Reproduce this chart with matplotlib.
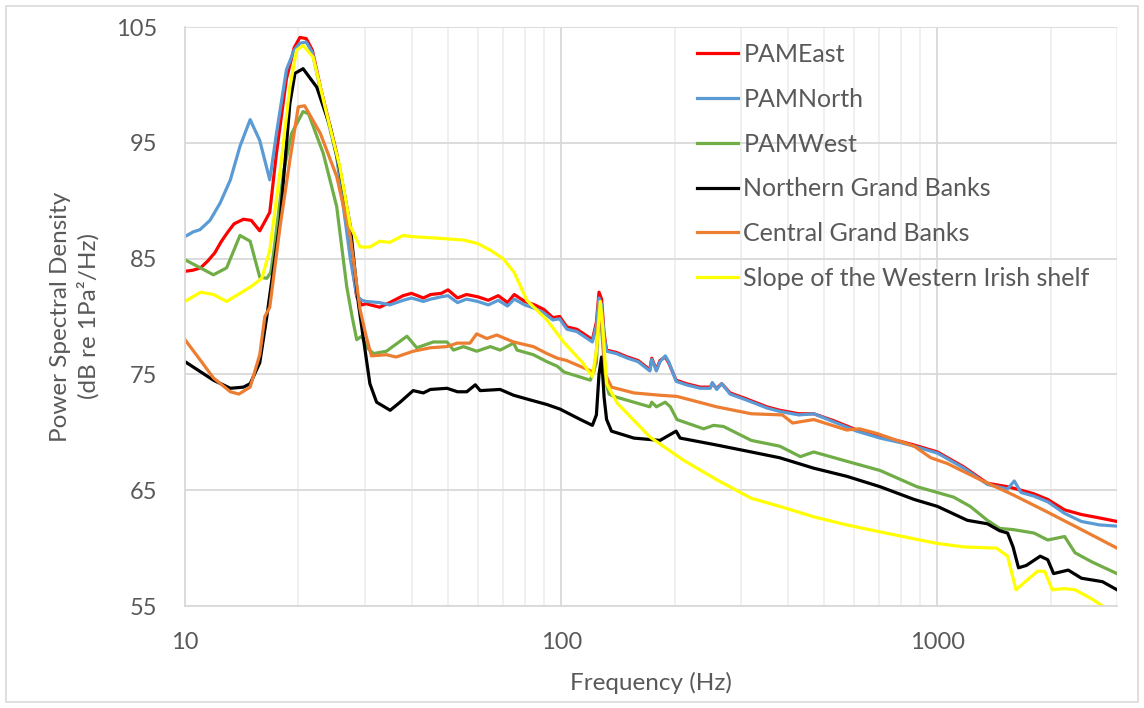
import matplotlib
matplotlib.use("Agg")
import matplotlib.pyplot as plt
from matplotlib.patches import Rectangle

plt.rcParams['font.family'] = ['Lato', 'DejaVu Sans']

# ---- data (frequency in Hz, level in dB) ----
east_f = [10, 10.5, 11, 11.5, 12, 12.5, 13, 13.5, 14.3, 15, 15.8, 16.3, 16.8, 17.5, 18.6, 19.5, 20.2, 21,
          21.8, 22.9, 25.3, 27.5, 28.6, 29.5, 30.3, 32.9, 35, 38, 40, 43, 45, 48, 50, 53, 56, 60, 64, 68, 72,
          75, 80, 85, 90, 95, 99, 103.5, 110, 116, 121, 124, 126, 128, 130, 132, 140, 150, 160, 172, 174,
          179, 183, 189, 193, 202, 215, 234, 249, 252, 259, 267, 281, 310, 352, 381, 428, 469, 530, 610,
          704, 800, 867, 1000, 1176, 1357, 1536, 1667, 1800, 1963, 2177, 2413, 2700, 3000]
east_db = [83.9, 84.0, 84.2, 84.8, 85.5, 86.5, 87.3, 88.0, 88.4, 88.3, 87.4, 88.2, 89.0, 94.1, 100.5, 103.2,
           104.1, 104.0, 103.0, 99.8, 94.1, 85.5, 81.7, 81.0, 81.1, 80.8, 81.2, 81.8, 82.0, 81.6, 81.9, 82.0,
           82.3, 81.6, 81.9, 81.7, 81.4, 81.8, 81.2, 81.9, 81.3, 81.0, 80.6, 79.9, 80.0, 79.1, 78.9, 78.4,
           78.0, 79.5, 82.1, 81.5, 78.5, 77.1, 76.9, 76.5, 76.2, 75.4, 76.4, 75.4, 76.2, 76.5, 76.0, 74.5,
           74.2, 73.9, 73.9, 74.2, 73.8, 74.2, 73.4, 72.9, 72.2, 71.9, 71.6, 71.6, 71.0, 70.2, 69.6, 69.2,
           68.9, 68.3, 67.0, 65.6, 65.3, 65.0, 64.7, 64.2, 63.3, 62.9, 62.6, 62.3]

north_f = [10, 10.5, 10.96, 11.65, 12.4, 13.2, 14, 14.9, 15.8, 16.8, 17.5, 18.6, 19.5, 20.2, 21, 21.8, 22.9,
           25.3, 27.5, 28.6, 29.5, 30.3, 32.9, 35, 38, 40, 43, 45, 48, 50, 53, 56, 60, 64, 68, 72, 75, 80, 85,
           90, 95, 99, 103.5, 110, 116, 121, 124, 126, 128, 130, 132, 140, 150, 160, 172, 174, 179, 183, 189,
           193, 202, 215, 234, 249, 252, 259, 267, 281, 310, 352, 381, 428, 469, 530, 610, 704, 800, 867,
           1000, 1176, 1357, 1536, 1600, 1667, 1800, 1963, 2177, 2413, 2700, 3000]
north_db = [86.9, 87.3, 87.5, 88.3, 89.8, 91.8, 94.7, 97.0, 95.2, 91.8, 95.8, 101.3, 103.0, 103.6, 103.7,
            102.8, 99.6, 93.8, 85.0, 81.8, 81.4, 81.3, 81.2, 81.0, 81.4, 81.6, 81.3, 81.5, 81.7, 81.8, 81.2,
            81.5, 81.3, 81.0, 81.4, 80.9, 81.5, 81.0, 80.7, 80.3, 79.7, 79.8, 78.9, 78.7, 78.2, 77.8, 79.2,
            81.6, 81.0, 78.2, 77.0, 76.8, 76.4, 76.1, 75.3, 76.3, 75.3, 76.1, 76.6, 76.1, 74.4, 74.1, 73.8,
            73.8, 74.3, 73.7, 74.2, 73.3, 72.8, 72.1, 71.8, 71.5, 71.6, 70.9, 70.1, 69.5, 69.1, 68.8, 68.2,
            66.9, 65.5, 65.1, 65.8, 64.8, 64.5, 64.0, 63.0, 62.3, 62.0, 61.9]

west_f = [10, 10.7, 11.9, 12.9, 14, 14.9, 15.8, 16.5, 16.9, 17.2, 18.3, 19.2, 20.6, 21.3, 23.3, 25.3, 26.9,
          27.8, 28.6, 29.5, 30.5, 31.7, 34.3, 38.9, 41.3, 45.7, 49.7, 51.7, 55, 59.6, 64.8, 68.8, 74.7,
          76.3, 84.3, 91.6, 97.6, 101.8, 119.5, 124, 126, 128, 131, 134, 138, 172, 174, 179, 189, 195, 203,
          239, 254, 270, 320, 381, 432, 469, 574, 704, 882, 1000, 1104, 1222, 1357, 1463, 1588, 1805, 1963,
          2177, 2320, 2575, 3000]
west_db = [84.9, 84.4, 83.6, 84.2, 87.0, 86.5, 83.4, 83.3, 83.8, 85.5, 92.6, 95.8, 97.7, 97.5, 94.1, 89.5,
           82.6, 80.0, 78.0, 78.3, 77.3, 76.8, 77.0, 78.3, 77.3, 77.8, 77.8, 77.1, 77.4, 77.0, 77.4, 77.1,
           77.7, 77.1, 76.7, 76.1, 75.7, 75.2, 74.5, 76.0, 80.5, 79.0, 74.5, 73.3, 73.1, 72.2, 72.6, 72.2,
           72.6, 72.2, 71.1, 70.3, 70.6, 70.5, 69.3, 68.8, 67.9, 68.3, 67.5, 66.7, 65.3, 64.8, 64.4, 63.6,
           62.4, 61.7, 61.6, 61.3, 60.7, 61.0, 59.6, 58.8, 57.8]

ngb_f = [10, 11.9, 13.2, 14.3, 14.9, 15.8, 16.5, 17.9, 19.0, 19.6, 20.6, 22.4, 24.3, 25.8, 27.5, 28.9, 31.0,
         32.3, 35.1, 37.3, 40.4, 43.0, 44.9, 49.7, 53, 56.1, 59.1, 60.9, 68.8, 74.7, 82.6, 91.6, 99.3, 112.5,
         121, 124, 126, 128, 130, 132, 136, 156, 183, 202, 207, 259, 320, 381, 469, 574, 704, 867, 1000, 1200,
         1357, 1463, 1536, 1588, 1642, 1722, 1875, 1963, 2035, 2226, 2413, 2745, 3000]
ngb_db = [76.1, 74.5, 73.8, 73.9, 74.2, 76.0, 80.0, 88.3, 98.4, 101.0, 101.4, 99.8, 96.4, 92.7, 87.8, 81.1,
          74.2, 72.6, 71.9, 72.6, 73.6, 73.4, 73.7, 73.8, 73.5, 73.5, 74.1, 73.6, 73.7, 73.2, 72.8, 72.4, 72.0,
          71.1, 70.6, 71.5, 75.0, 76.5, 73.0, 71.1, 70.1, 69.5, 69.3, 70.1, 69.5, 68.9, 68.3, 67.8, 66.9, 66.2,
          65.3, 64.2, 63.6, 62.4, 62.1, 61.5, 61.3, 60.1, 58.3, 58.5, 59.3, 59.0, 57.8, 58.1, 57.4, 57.1, 56.4]

cgb_f = [10, 11.0, 11.9, 13.2, 13.9, 14.9, 15.8, 16.3, 16.8, 17.9, 19.0, 20.0, 20.8, 22.9, 25.3, 27.5, 29.2,
         30.3, 31.3, 34.3, 36.4, 40.4, 44.9, 49.7, 52.9, 57.2, 59.6, 63.4, 67.4, 74.7, 84.3, 91.6, 97.6,
         103.3, 122, 124, 126, 128, 131, 136, 156, 183, 203, 259, 320, 387, 412, 469, 574, 621, 690, 867,
         960, 1063, 1300, 1588, 1963, 2413, 3000]
cgb_db = [78.0, 76.2, 74.7, 73.5, 73.3, 73.9, 76.7, 80.0, 80.8, 87.8, 93.5, 98.1, 98.2, 95.8, 92.1, 86.9, 80.6,
          78.3, 76.6, 76.7, 76.5, 77.0, 77.3, 77.4, 77.7, 77.7, 78.5, 78.1, 78.4, 77.8, 77.4, 76.8, 76.4, 76.2,
          75.2, 77.0, 80.5, 79.5, 75.0, 73.9, 73.4, 73.2, 73.1, 72.2, 71.6, 71.5, 70.8, 71.1, 70.2, 70.3, 69.9,
          68.8, 67.8, 67.3, 65.9, 64.6, 63.1, 61.6, 60.0]

irish_f = [10, 11.0, 11.9, 12.9, 14.0, 15.0, 16.0, 16.8, 17.9, 19.0, 19.8, 20.6, 21.9, 23.8, 25.8, 27.5, 29.2,
           31.0, 32.9, 35, 38, 40, 45, 50, 55, 60, 65, 70, 75, 81, 91.6, 102, 114, 121, 124, 127, 129, 132,
           141, 172, 211, 259, 320, 381, 469, 574, 704, 867, 1000, 1176, 1434, 1536, 1616, 1697, 1843, 1927,
           2018, 2177, 2320, 2575, 2745, 3000]
irish_db = [81.3, 82.1, 81.9, 81.3, 82.0, 82.6, 83.3, 85.7, 92.6, 99.8, 103.0, 103.4, 102.4, 97.5, 92.9, 87.8,
            86.0, 86.0, 86.5, 86.4, 87.0, 86.9, 86.8, 86.7, 86.6, 86.3, 85.7, 85.0, 83.8, 81.4, 79.7, 77.7,
            76.0, 74.8, 77.0, 81.3, 79.0, 74.2, 72.5, 69.6, 67.6, 65.9, 64.3, 63.6, 62.7, 62.0, 61.4, 60.8,
            60.4, 60.1, 60.0, 59.3, 56.4, 57.0, 58.0, 58.0, 56.4, 56.5, 56.4, 55.6, 55.0, 54.4]

series = [
    ("PAMEast", east_f, east_db, "#FF0000"),
    ("PAMNorth", north_f, north_db, "#5B9BD5"),
    ("PAMWest", west_f, west_db, "#70AD47"),
    ("Northern Grand Banks", ngb_f, ngb_db, "#000000"),
    ("Central Grand Banks", cgb_f, cgb_db, "#ED7D31"),
    ("Slope of the Western Irish shelf", irish_f, irish_db, "#FFFF00"),
]
y_ticks = [55, 65, 75, 85, 95, 105]
x_ticks = [10, 100, 1000]

fig = plt.figure(figsize=(11.44, 7.08), dpi=100)
ax = fig.add_axes([185 / 1144, 102 / 708, 932 / 1144, 579 / 708])

for name, f, db, col in series:
    ax.plot(f, db, color=col, lw=2.3, label=name, solid_joinstyle='round')

ax.set_xscale('log')
ax.set_xlim(10, 3000)
ax.set_ylim(55, 105)
ax.set_yticks(y_ticks)
ax.set_xticks(x_ticks)
ax.set_xticklabels([str(t) for t in x_ticks])
ax.minorticks_on()
ax.yaxis.set_minor_locator(plt.NullLocator())
ax.xaxis.set_minor_formatter(plt.NullFormatter())
ax.grid(True, which='major', color='#d9d9d9', lw=1.3)
ax.grid(True, which='minor', axis='x', color='#ececec', lw=1.1)
ax.set_axisbelow(True)
ax.tick_params(which='both', length=0, labelsize=17, labelcolor='#595959')
ax.tick_params(axis='x', pad=19)
ax.tick_params(axis='y', pad=20)
for s in ['top', 'right']:
    ax.spines[s].set_visible(False)
for s in ['left', 'bottom']:
    ax.spines[s].set_color('#d9d9d9')
    ax.spines[s].set_linewidth(1.3)

ax.set_xlabel("Frequency (Hz)", fontsize=17.5, color='#595959', labelpad=13)
ax.set_ylabel("Power Spectral Density\n(dB re 1Pa²/Hz)", fontsize=17.5, color='#595959',
              labelpad=12, linespacing=1.3)

leg = ax.legend(loc='upper left', bbox_to_anchor=(697 / 1144, 1 - 43 / 708),
                bbox_transform=fig.transFigure, frameon=False, fontsize=18,
                handlelength=1.65, handletextpad=0.2, labelspacing=0.87, labelcolor='#595959',
                borderpad=0, borderaxespad=0)

fig.add_artist(Rectangle((6 / 1144, 6 / 708), 1132 / 1144, 696 / 708, transform=fig.transFigure,
                         fill=False, edgecolor='#d9d9d9', lw=1.2))

fig.savefig("out.png", dpi=100)
